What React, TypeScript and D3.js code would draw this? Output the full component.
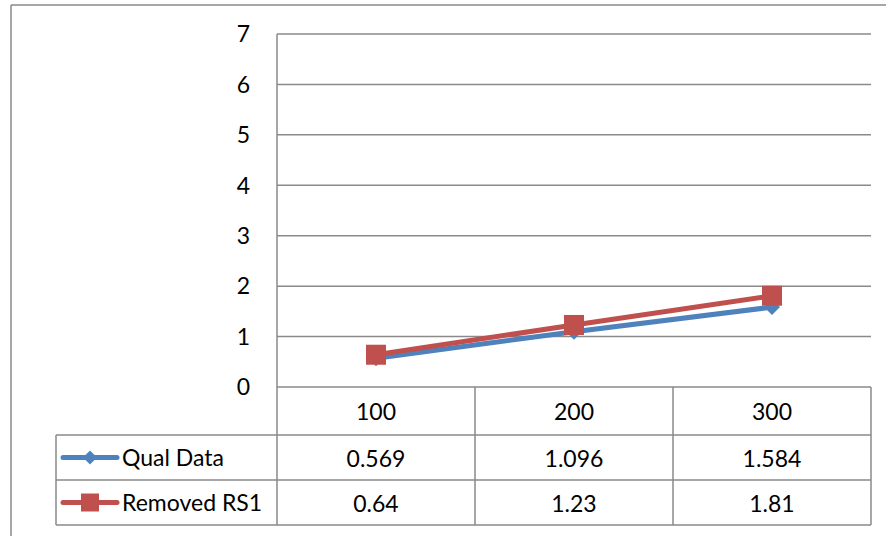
import React from "react";
import * as d3 from "d3";

const categories = ["100", "200", "300"];
const qualData = [0.569, 1.096, 1.584];
const removedRS1 = [0.64, 1.23, 1.81];
const seriesNames = ["Qual Data", "Removed RS1"];
const yTicks = [0, 1, 2, 3, 4, 5, 6, 7];

const W = 886;
const H = 536;
const plotLeft = 277;
const plotRight = 871;
const plotTop = 34;
const plotBottom = 387;
const rowBounds = [387, 435, 480, 525];
const tableLeft = 56;
const gridColor = "#8a8a8a";
const font = "Lato, 'Open Sans', sans-serif";
const colors = ["#4F81BD", "#C0504D"];
const fs = 23;

export default function App() {
  const x = d3.scaleBand().domain(categories).range([plotLeft, plotRight]).padding(0);
  const y = d3.scaleLinear().domain([0, 7]).range([plotBottom, plotTop]);
  const cx = (c: string) => (x(c) as number) + x.bandwidth() / 2;
  const line = d3
    .line<number>()
    .x((_, i) => cx(categories[i]))
    .y((v) => y(v));
  const series = [qualData, removedRS1];
  const colEdges = [plotLeft, ...categories.map((c) => (x(c) as number) + x.bandwidth())];

  const diamond = (px: number, py: number, r: number) =>
    `M${px},${py - r}L${px + r},${py}L${px},${py + r}L${px - r},${py}Z`;

  return (
    <svg width={W} height={H} style={{ position: "absolute", left: 0, top: 0 }} fontFamily={font}>
      <rect x={0} y={0} width={W} height={H} fill="#fff" />
      {/* outer frame */}
      <line x1={11} y1={5} x2={W} y2={5} stroke={gridColor} strokeWidth={1.5} />
      <line x1={11} y1={5} x2={11} y2={H} stroke={gridColor} strokeWidth={1.5} />
      {/* gridlines */}
      {yTicks.map((t) => (
        <line key={t} x1={plotLeft} x2={plotRight} y1={y(t)} y2={y(t)} stroke={gridColor} strokeWidth={1.5} />
      ))}
      {/* y labels */}
      {yTicks.map((t) => (
        <text key={"l" + t} x={250} y={y(t)} dy="0.36em" textAnchor="end" fontSize={fs} fill="#000">
          {t}
        </text>
      ))}
      {/* table lines */}
      {rowBounds.slice(1).map((r) => (
        <line key={"r" + r} x1={tableLeft} x2={plotRight} y1={r} y2={r} stroke={gridColor} strokeWidth={1.5} />
      ))}
      <line x1={tableLeft} x2={tableLeft} y1={rowBounds[1]} y2={rowBounds[3]} stroke={gridColor} strokeWidth={1.5} />
      <line x1={plotLeft} x2={plotLeft} y1={plotTop} y2={rowBounds[3]} stroke={gridColor} strokeWidth={1.5} />
      {colEdges.slice(1).map((e) => (
        <line key={"c" + e} x1={e} x2={e} y1={rowBounds[0]} y2={rowBounds[3]} stroke={gridColor} strokeWidth={1.5} />
      ))}
      {/* header */}
      {categories.map((c) => (
        <text key={"h" + c} x={cx(c)} y={(rowBounds[0] + rowBounds[1]) / 2 + 1} dy="0.36em" textAnchor="middle" fontSize={fs}>
          {c}
        </text>
      ))}
      {/* rows */}
      {series.map((s, si) => {
        const yc = (rowBounds[si + 1] + rowBounds[si + 2]) / 2;
        return (
          <g key={"row" + si}>
            <line x1={63} x2={117} y1={yc} y2={yc} stroke={colors[si]} strokeWidth={5} strokeLinecap="round" />
            {si === 0 ? (
              <path d={diamond(90, yc, 7)} fill={colors[0]} />
            ) : (
              <rect x={81} y={yc - 9} width={18} height={18} fill={colors[1]} />
            )}
            <text x={122} y={yc} dy="0.36em" fontSize={fs}>
              {seriesNames[si]}
            </text>
            {s.map((v, i) => (
              <text key={i} x={cx(categories[i])} y={yc + 1} dy="0.36em" textAnchor="middle" fontSize={fs}>
                {String(v)}
              </text>
            ))}
          </g>
        );
      })}
      {/* series lines */}
      {series.map((s, si) => (
        <g key={"s" + si}>
          <path d={line(s) as string} fill="none" stroke={colors[si]} strokeWidth={5} strokeLinejoin="round" />
          {s.map((v, i) =>
            si === 0 ? (
              <path key={i} d={diamond(cx(categories[i]), y(v), 8)} fill={colors[0]} />
            ) : (
              <rect key={i} x={cx(categories[i]) - 10} y={y(v) - 10} width={20} height={20} fill={colors[1]} />
            )
          )}
        </g>
      ))}
    </svg>
  );
}
